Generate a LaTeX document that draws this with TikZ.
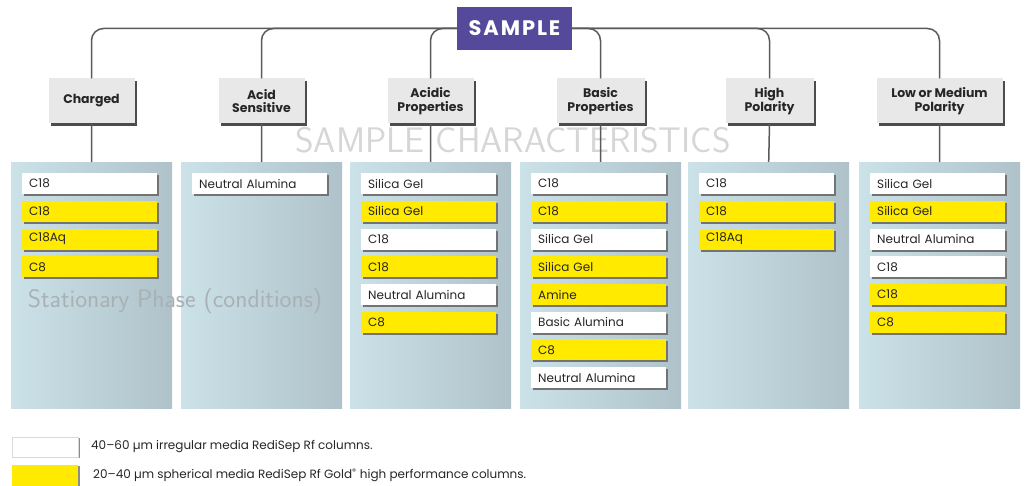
\documentclass[tikz,border=0pt]{standalone}
\usepackage{fontspec}
\setmainfont{Poppins}
\usetikzlibrary{shadows}
\definecolor{purp}{HTML}{55499C}
\definecolor{yel}{HTML}{FFEA00}
\definecolor{colL}{HTML}{CBE2E8}
\definecolor{colR}{HTML}{AFC2C9}
\definecolor{hdr}{HTML}{E8E8E8}
\definecolor{lineg}{HTML}{5A5A5A}
\definecolor{wm}{HTML}{D6D6D6}
\definecolor{wmb}{HTML}{A9B1B4}
\begin{document}
\begin{tikzpicture}[x=1pt,y=-1pt,
 conn/.style={draw=lineg, line width=1.5pt, rounded corners=12pt},
 header/.style={fill=hdr, minimum height=45pt, align=center, font=\bfseries\fontsize{12.5}{13.5}\selectfont, text=black!85, inner sep=2pt, drop shadow={shadow xshift=2.5pt, shadow yshift=-2.5pt, fill=black!70, opacity=1}},
 column/.style={left color=colL, right color=colR, minimum width=161pt, minimum height=246pt, anchor=north west, inner sep=0pt},
 item/.style={anchor=north west, minimum height=21pt, text width=121pt, inner xsep=7pt, inner ysep=0pt, align=left, font=\fontsize{12}{13}\selectfont, text=black!85, drop shadow={shadow xshift=2pt, shadow yshift=-2pt, fill=black!55, opacity=1}},
 W/.style={item, fill=white},
 Y/.style={item, fill=yel},
 legbox/.style={anchor=north west, minimum width=66pt, inner sep=0pt, drop shadow={shadow xshift=2pt, shadow yshift=-1pt, fill=black!45, opacity=1}},
 legtext/.style={anchor=west, font=\fontsize{12}{13}\selectfont, text=black!85, inner sep=0pt},
]
\path[use as bounding box] (0,0) rectangle (1026,486);

% watermark
\node[text=wm, font=\sffamily\fontsize{35.5}{37}\selectfont] (wm1) at (513,140) {SAMPLE CHARACTERISTICS};

% columns
\node[column] (c1) at (11,162) {};
\node[column] (c2) at (181,162) {};
\node[column] (c3) at (350,162) {};
\node[column] (c4) at (520,162) {};
\node[column] (c5) at (688,162) {};
\node[column] (c6) at (859,162) {};

\node[text=wmb, font=\sffamily\fontsize{25.3}{27}\selectfont] (wm2) at (175,301) {Stationary Phase (conditions)};

% sample
\node[fill=purp, text=white, font=\bfseries\fontsize{21}{23}\selectfont\addfontfeatures{LetterSpace=9}, minimum width=115pt, minimum height=43pt, inner sep=0pt] (s) at (514.5,28.5) {SAMPLE};

% headers
\node[header, minimum width=86pt] (h1) at (91.5,101) {Charged};
\node[header, minimum width=86pt] (h2) at (261.5,101) {Acid\\Sensitive};
\node[header, minimum width=86pt] (h3) at (430.5,101) {Acidic\\Properties};
\node[header, minimum width=88pt] (h4) at (600.5,101) {Basic\\Properties};
\node[header, minimum width=88pt] (h5) at (769.5,101) {High\\Polarity};
\node[header, minimum width=126pt] (h6) at (939.5,101) {Low or Medium\\Polarity};

% connectors
\draw[conn] (s.west) -| (h1.north);
\draw[conn] (s.west) -| (h2.north);
\draw[conn] (s.west) -| (h3.north);
\draw[conn] (s.east) -| (h4.north);
\draw[conn] (s.east) -| (h5.north);
\draw[conn] (s.east) -| (h6.north);
\foreach \i in {1,...,6} {\draw[draw=lineg, line width=1.5pt] (h\i.south) -- (c\i.north);}

% column 1
\node[W] (a1) at (22,173) {C18};
\node[Y] (a2) at (22,200.7) {C18};
\node[Y] (a3) at (22,228.4) {C18Aq};
\node[Y] (a4) at (22,256.1) {C8};
% column 2
\node[W] (b1) at (192,173) {Neutral Alumina};
% column 3
\node[W] (d1) at (361,173) {Silica Gel};
\node[Y] (d2) at (361,200.7) {Silica Gel};
\node[W] (d3) at (361,228.4) {C18};
\node[Y] (d4) at (361,256.1) {C18};
\node[W] (d5) at (361,283.8) {Neutral Alumina};
\node[Y] (d6) at (361,311.5) {C8};
% column 4
\node[W] (e1) at (531,173) {C18};
\node[Y] (e2) at (531,200.7) {C18};
\node[W] (e3) at (531,228.4) {Silica Gel};
\node[Y] (e4) at (531,256.1) {Silica Gel};
\node[Y] (e5) at (531,283.8) {Amine};
\node[W] (e6) at (531,311.5) {Basic Alumina};
\node[Y] (e7) at (531,339.2) {C8};
\node[W] (e8) at (531,366.9) {Neutral Alumina};
% column 5
\node[W] (f1) at (699,173) {C18};
\node[Y] (f2) at (699,200.7) {C18};
\node[Y] (f3) at (699,228.4) {C18Aq};
% column 6
\node[W] (g1) at (870,173) {Silica Gel};
\node[Y] (g2) at (870,200.7) {Silica Gel};
\node[W] (g3) at (870,228.4) {Neutral Alumina};
\node[W] (g4) at (870,256.1) {C18};
\node[Y] (g5) at (870,283.8) {C18};
\node[Y] (g6) at (870,311.5) {C8};

% legend
\node[legbox, fill=white, draw=black!15, minimum height=20pt] (l1) at (12,437) {};
\node[legbox, fill=yel, minimum height=21pt] (l2) at (12,465) {};
\node[legtext] (t1) at (91,447) {40–60 µm irregular media RediSep Rf columns.};
\node[legtext] (t2) at (93,475) {20–40 µm spherical media RediSep Rf Gold\textsuperscript{®} high performance columns.};
\end{tikzpicture}
\end{document}
